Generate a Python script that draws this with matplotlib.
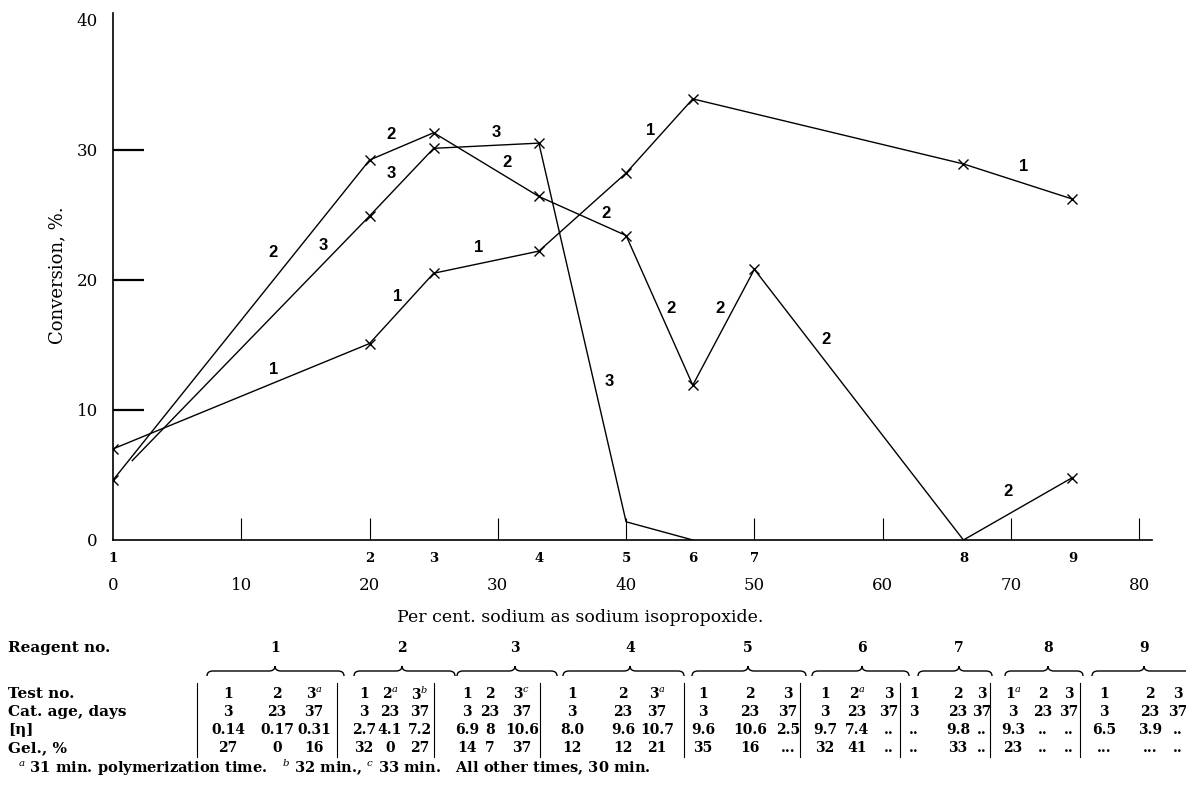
import matplotlib
matplotlib.use("Agg")
import matplotlib.pyplot as plt
from matplotlib.path import Path
from matplotlib.patches import PathPatch
from matplotlib.lines import Line2D

# ---- chart data -------------------------------------------------------
reagent_labels = ['1', '2', '3', '4', '5', '6', '7', '8', '9']
reagent_pct = [0, 20, 25, 33.2, 40, 45.2, 50, 66.3, 74.8]

# test 1 (no point for reagent 7)
test1_x = [0, 20, 25, 33.2, 40, 45.2, 66.3, 74.8]
test1_y = [7.0, 15.1, 20.5, 22.2, 28.2, 33.9, 28.9, 26.2]
# test 2
test2_x = [0, 20, 25, 33.2, 40, 45.2, 50, 66.3, 74.8]
test2_y = [4.6, 29.2, 31.3, 26.4, 23.4, 11.9, 20.8, 0.0, 4.8]
# test 3 (line starts just off the axis, no cross there)
test3_x = [1.5, 20, 25, 33.2, 40, 45.2]
test3_y = [6.1, 24.9, 30.1, 30.5, 1.4, 0.0]

# curve number labels along the lines
label1_x = [12.5, 22.2, 28.5, 41.9, 71.0]
label1_y = [13.1, 18.7, 22.5, 31.5, 28.7]
label2_x = [12.5, 21.7, 30.7, 38.4, 43.5, 47.3, 55.6, 69.8]
label2_y = [22.1, 31.2, 29.0, 25.1, 17.8, 17.8, 15.4, 3.7]
label3_x = [16.4, 21.7, 29.9, 38.7]
label3_y = [22.6, 28.2, 31.3, 12.2]

# ---- table data -------------------------------------------------------
row_names = ['Test no.', 'Cat. age, days', '[η]', 'Gel., %']
test_no = [['1', '2', '3$^a$'], ['1', '2$^a$', '3$^b$'], ['1', '2', '3$^c$'],
           ['1', '2', '3$^a$'], ['1', '2', '3'], ['1', '2$^a$', '3'],
           ['1', '2', '3'], ['1$^a$', '2', '3'], ['1', '2', '3']]
cat_age = ['3', '23', '37']
visc = [['0.14', '0.17', '0.31'], ['2.7', '4.1', '7.2'], ['6.9', '8', '10.6'],
        ['8.0', '9.6', '10.7'], ['9.6', '10.6', '2.5'], ['9.7', '7.4', '..'],
        ['..', '9.8', '..'], ['9.3', '..', '..'], ['6.5', '3.9', '..']]
gel = [['27', '0', '16'], ['32', '0', '27'], ['14', '7', '37'],
       ['12', '12', '21'], ['35', '16', '...'], ['32', '41', '..'],
       ['..', '33', '..'], ['23', '..', '..'], ['...', '...', '..']]
footnote = ('$^a$ 31 min. polymerization time.   $^b$ 32 min., '
            '$^c$ 33 min.   All other times, 30 min.')

# ---- layout (pixels of the 1186x798 picture) --------------------------
W, H = 1186, 798
col_px = [[228, 277, 314], [364, 390, 420], [467, 490, 522],
          [572, 623, 657], [703, 750, 788], [825, 857, 889],
          [914, 958, 982], [1013, 1043, 1069], [1104, 1150, 1178]]
bar_px = [197, 337, 434, 540, 684, 800, 900, 990, 1080]
brace_px = [(207, 344), (354, 455), (457, 557), (563, 684), (692, 806),
            (812, 909), (918, 992), (1005, 1083), (1092, 1196)]
peak_px = [275, 402, 515, 630, 748, 862, 959, 1048, 1144]
row_y = [694, 712, 730, 748]


def fx(px):
    return px / W


def fy(py):
    return 1 - py / H


plt.rcParams['font.family'] = 'DejaVu Serif'
plt.rcParams['mathtext.fontset'] = 'dejavuserif'

fig = plt.figure(figsize=(W / 100, H / 100), dpi=100)
ax = fig.add_axes([fx(113), fy(540), fx(1152) - fx(113), fy(13) - fy(540)])

lw = 1.0
mk = dict(marker='x', ms=7, mew=1.0)
ax.plot(test1_x, test1_y, color='black', lw=lw, **mk)
ax.plot(test2_x, test2_y, color='black', lw=lw,
        markevery=[0, 1, 2, 3, 4, 5, 6, 8], **mk)
ax.plot(test3_x, test3_y, color='black', lw=lw, markevery=[1, 2, 3], **mk)

lab_kw = dict(fontsize=12, fontweight='bold', family='Liberation Sans',
              ha='center', va='center')
for x, y in zip(label1_x, label1_y):
    ax.text(x, y, '1', **lab_kw)
for x, y in zip(label2_x, label2_y):
    ax.text(x, y, '2', **lab_kw)
for x, y in zip(label3_x, label3_y):
    ax.text(x, y, '3', **lab_kw)

ax.set_xlim(0, 81)
ax.set_ylim(0, 40.5)
for s in ['top', 'right']:
    ax.spines[s].set_visible(False)
for s in ['left', 'bottom']:
    ax.spines[s].set_linewidth(1.2)

ax.set_xticks(range(0, 81, 10))
ax.set_yticks(range(0, 41, 10))
ax.tick_params(axis='x', direction='in', length=16, width=0.8,
               labelsize=12, pad=27)
ax.tick_params(axis='y', direction='in', length=22, width=1.6,
               labelsize=12, pad=11)
ax.xaxis.get_major_ticks()[0].tick1line.set_visible(False)
ax.yaxis.get_major_ticks()[0].tick1line.set_visible(False)
ax.yaxis.get_major_ticks()[-1].tick1line.set_visible(False)

# reagent numbers under the axis
for x, lab in zip(reagent_pct, reagent_labels):
    ax.annotate(lab, xy=(x, 0), xycoords=('data', 'axes fraction'),
                xytext=(0, -18), textcoords='offset pixels',
                ha='center', va='center', fontsize=9.5, fontweight='bold')

fig.text(fx(57), fy(275), 'Conversion, %.', rotation=90, fontsize=13,
         ha='center', va='center')
fig.text(fx(580), fy(617), 'Per cent. sodium as sodium isopropoxide.',
         fontsize=12.5, ha='center', va='center')

# ---- table under the chart -------------------------------------------
tkw = dict(fontsize=10, fontweight='bold', va='center')
rkw = dict(fontsize=11, fontweight='bold', va='center', ha='left')
fig.text(fx(8), fy(648), 'Reagent no.', **rkw)
for name, py in zip(row_names, row_y):
    fig.text(fx(8), fy(py), name, **rkw)

for g in range(9):
    fig.text(fx(peak_px[g]), fy(648), reagent_labels[g], ha='center', **tkw)
    rows = [test_no[g], cat_age, visc[g], gel[g]]
    for r, py in zip(rows, row_y):
        for c in range(3):
            fig.text(fx(col_px[g][c]), fy(py), r[c], ha='center', **tkw)
    # vertical rule
    fig.add_artist(Line2D([fx(bar_px[g])] * 2, [fy(683), fy(757)],
                          color='black', lw=0.8))
    # curly brace
    x0, x1 = brace_px[g]
    xm = peak_px[g]
    yb = 671
    verts = [(x0, yb + 5), (x0, yb), (x0 + 6, yb),
             (xm - 6, yb), (xm, yb), (xm, yb - 5),
             (xm, yb), (xm + 6, yb),
             (x1 - 6, yb), (x1, yb), (x1, yb + 5)]
    codes = [Path.MOVETO, Path.CURVE3, Path.CURVE3,
             Path.LINETO, Path.CURVE3, Path.CURVE3,
             Path.CURVE3, Path.CURVE3,
             Path.LINETO, Path.CURVE3, Path.CURVE3]
    verts = [(fx(a), fy(b)) for a, b in verts]
    fig.add_artist(PathPatch(Path(verts, codes), fill=False, lw=1.0,
                             transform=fig.transFigure))

fig.text(fx(18), fy(768), footnote, ha='left', fontsize=10.5,
         fontweight='bold', va='center')

fig.savefig('out.png', dpi=100)
